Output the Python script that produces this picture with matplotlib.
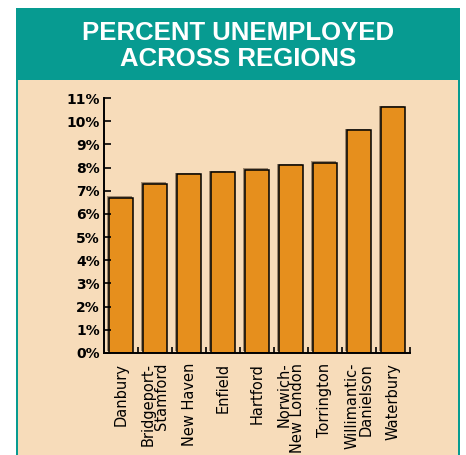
import matplotlib
matplotlib.use("Agg")
import matplotlib.pyplot as plt
import matplotlib.patheffects as pe
from matplotlib.patches import Rectangle
import numpy as np

# regional unemployment rates (%)
regions = ["Danbury", "Bridgeport-\nStamford", "New Haven", "Enfield", "Hartford",
           "Norwich-\nNew London", "Torrington", "Willimantic-\nDanielson", "Waterbury"]
rates = [6.7, 7.3, 7.7, 7.8, 7.9, 8.1, 8.2, 9.6, 10.6]
y_ticks = list(range(0, 12))

TEAL = "#079b91"
BEIGE = "#f7dcba"
ORANGE = "#e68f1d"

W, H = 466, 455
fig = plt.figure(figsize=(W / 100, H / 100), dpi=100)
fig.patch.set_facecolor("white")

# framed panel with teal header
fig.patches.append(Rectangle((16 / W, 0), 444 / W, (H - 8) / H,
                             transform=fig.transFigure, facecolor=TEAL,
                             edgecolor="none", zorder=-2))
fig.patches.append(Rectangle((18 / W, 0), 440 / W, (H - 80) / H,
                             transform=fig.transFigure, facecolor=BEIGE,
                             edgecolor="none", zorder=-1))
fig.text(238 / W, 1 - 46 / H, "PERCENT UNEMPLOYED\nACROSS REGIONS",
         ha="center", va="center", color="white", fontsize=18.5,
         fontweight="bold", family="Liberation Sans", linespacing=1.15)

ax = fig.add_axes([104 / W, 102 / H, 306 / W, 255 / H])
ax.set_zorder(1)
ax.set_facecolor("none")

x = np.arange(len(regions))
bars = ax.bar(x, rates, width=0.72, color=ORANGE, edgecolor="black", linewidth=1.1)
for b in bars:
    b.set_path_effects([pe.SimplePatchShadow(offset=(-1.1, 1.1),
                                             shadow_rgbFace="#5a4630", alpha=0.55),
                        pe.Normal()])

ax.set_xlim(-0.5, len(regions) - 0.5)
ax.set_ylim(0, 11)

for s in ["top", "right"]:
    ax.spines[s].set_visible(False)
for s in ["left", "bottom"]:
    ax.spines[s].set_linewidth(1.4)

ax.set_yticks(y_ticks)
ax.set_yticklabels([f"{v}%" for v in y_ticks], fontsize=10, fontweight="bold",
                   family="DejaVu Sans")
ax.tick_params(axis="y", direction="in", length=5, width=1.2, pad=3)

ax.set_xticks(x)
ax.set_xticklabels(regions, rotation=90, fontsize=10.5, family="DejaVu Sans",
                   va="top", ha="center", multialignment="right", linespacing=0.9)
ax.tick_params(axis="x", which="major", length=0, pad=7)
ax.set_xticks(np.arange(0.5, len(regions)), minor=True)
ax.tick_params(axis="x", which="minor", direction="in", length=4.5, width=1.2)

fig.savefig("out.png", dpi=100)
